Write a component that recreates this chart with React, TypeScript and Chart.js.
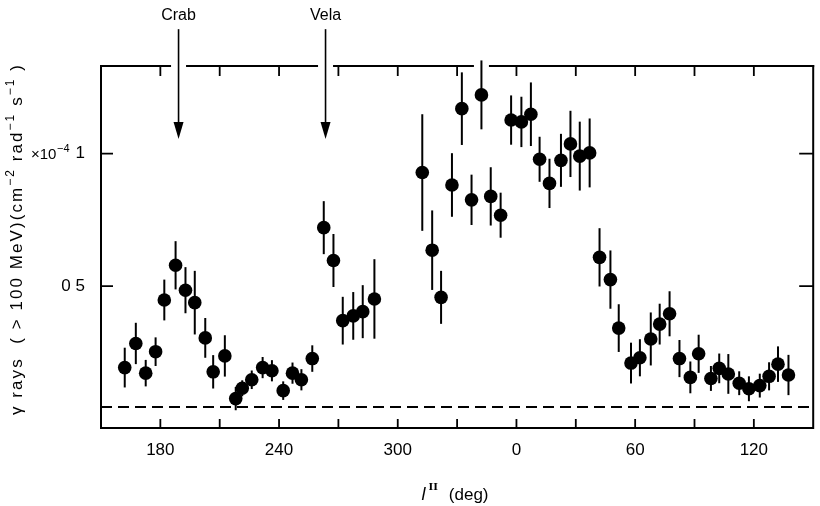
import { useEffect, useRef } from 'react';
import { Chart, registerables } from 'chart.js';

Chart.register(...registerables);

// Galactic longitude of each measurement (deg)
const longitudes = [
  162, 167.6, 172.6, 177.6, 182, 187.7, 192.7, 197.4, 202.7, 206.7,
  212.6, 218.1, 221.4, 226.2, 231.7, 236.4, 242.1, 246.8, 251.3, 256.8,
  262.6, 267.5, 272.2, 277.5, 282.3, 288.2, 312.4, 317.4, 321.9, 327.4,
  332.4, 337.3, 342.3, 347, 352, 357.3, 2.5, 7.3, 11.7, 16.7,
  22.5, 27.3, 32, 37, 42, 47.5, 51.7, 57.9, 62.4, 67.9,
  72.4, 77.4, 82.4, 87.9, 92.1, 98.3, 102.5, 107.1, 112.6, 117.5,
  123, 127.7, 132.2, 137.5,
];

// gamma-ray flux (x10^-4 cm^-2 rad^-1 s^-1)
const fluxes = [
  0.193, 0.284, 0.172, 0.253, 0.448, 0.579, 0.485, 0.438, 0.305, 0.177,
  0.237, 0.076, 0.115, 0.147, 0.193, 0.181, 0.106, 0.172, 0.147, 0.227,
  0.721, 0.597, 0.37, 0.388, 0.404, 0.452, 0.929, 0.636, 0.458, 0.882,
  1.17, 0.826, 1.222, 0.839, 0.768, 1.127, 1.12, 1.149, 0.979, 0.888,
  0.975, 1.037, 0.991, 1.003, 0.609, 0.525, 0.342, 0.21, 0.23, 0.301,
  0.357, 0.396, 0.227, 0.156, 0.245, 0.152, 0.19, 0.169, 0.134, 0.113,
  0.125, 0.16, 0.206, 0.165,
];

const errors = [
  0.075, 0.078, 0.05, 0.054, 0.077, 0.091, 0.087, 0.12, 0.075, 0.063,
  0.078, 0.044, 0.03, 0.035, 0.04, 0.04, 0.035, 0.04, 0.04, 0.05,
  0.1, 0.1, 0.09, 0.09, 0.1, 0.15, 0.22, 0.15, 0.1, 0.12,
  0.137, 0.095, 0.13, 0.11, 0.085, 0.093, 0.095, 0.12, 0.085, 0.093,
  0.1, 0.125, 0.13, 0.13, 0.11, 0.11, 0.09, 0.077, 0.07, 0.1,
  0.077, 0.085, 0.07, 0.06, 0.072, 0.047, 0.056, 0.075, 0.045, 0.047,
  0.045, 0.053, 0.067, 0.076,
];

const backgroundLevel = 0.044;

const xTickValues = [180, 210, 240, 270, 300, 330, 360, 390, 420, 450, 480];
const yTickValues = [0.5, 1];
const yTickLabels = ['0 5', '1'];

const sourceNames = ['Crab', 'Vela'];
const sourceLongitudes = [189.2, 263.5];

const X_MIN = 150;
const X_MAX = 510;
const Y_MIN = -0.035;
const Y_MAX = 1.331;

const unwrap = (l: number) => (l < X_MIN ? l + 360 : l);

const FONT = "'Liberation Sans', Arial, Helvetica, sans-serif";

// y title as runs: [text, isSuperscript]
const yTitleRuns: [string, boolean][] = [
  ['γ rays  ( > 100 MeV)(cm', false],
  ['−2', true],
  [' rad', false],
  ['−1', true],
  [' s', false],
  ['−1', true],
  [' )', false],
];

export default function App() {
  const ref = useRef<HTMLCanvasElement>(null);

  useEffect(() => {
    if (!ref.current) return;
    const points = longitudes.map((l, i) => ({ x: unwrap(l), y: fluxes[i] }));

    const decor = {
      id: 'decor',
      beforeDatasetsDraw(chart: any) {
        const { ctx, scales } = chart;
        const x = scales.x;
        const y = scales.y;
        ctx.save();
        ctx.strokeStyle = '#000';
        ctx.lineWidth = 2;
        points.forEach((p, i) => {
          const px = x.getPixelForValue(p.x);
          ctx.beginPath();
          ctx.moveTo(px, y.getPixelForValue(p.y + errors[i]));
          ctx.lineTo(px, y.getPixelForValue(p.y - errors[i]));
          ctx.stroke();
        });
        ctx.restore();
      },
      afterDraw(chart: any) {
        const { ctx, chartArea: a, scales } = chart;
        const x = scales.x;
        const y = scales.y;
        ctx.save();
        ctx.strokeStyle = '#000';
        ctx.fillStyle = '#000';
        ctx.lineWidth = 2;

        // frame: left, bottom, right
        ctx.beginPath();
        ctx.moveTo(a.left, a.top - 1);
        ctx.lineTo(a.left, a.bottom);
        ctx.lineTo(a.right, a.bottom);
        ctx.lineTo(a.right, a.top - 1);
        ctx.stroke();

        // top frame, broken where arrows / error bar pass through
        const gaps = [...sourceLongitudes, unwrap(longitudes[32])]
          .map((v) => x.getPixelForValue(v))
          .sort((p, q) => p - q);
        let start = a.left - 1;
        ctx.beginPath();
        gaps.forEach((g) => {
          ctx.moveTo(start, a.top);
          ctx.lineTo(g - 7.5, a.top);
          start = g + 7.5;
        });
        ctx.moveTo(start, a.top);
        ctx.lineTo(a.right + 1, a.top);
        ctx.stroke();

        // inward ticks
        ctx.lineWidth = 1.8;
        ctx.beginPath();
        xTickValues.forEach((v) => {
          const px = x.getPixelForValue(v);
          ctx.moveTo(px, a.bottom);
          ctx.lineTo(px, a.bottom - 9);
          ctx.moveTo(px, a.top);
          ctx.lineTo(px, a.top + 10);
        });
        yTickValues.forEach((v) => {
          const py = y.getPixelForValue(v);
          ctx.moveTo(a.left, py);
          ctx.lineTo(a.left + 12, py);
          ctx.moveTo(a.right, py);
          ctx.lineTo(a.right - 14, py);
        });
        ctx.stroke();

        // source arrows
        ctx.font = `16px ${FONT}`;
        ctx.textAlign = 'center';
        ctx.textBaseline = 'middle';
        sourceNames.forEach((name, i) => {
          const px = x.getPixelForValue(sourceLongitudes[i]);
          const yStart = y.getPixelForValue(1.47);
          const yTip = y.getPixelForValue(1.056);
          ctx.lineWidth = 1.6;
          ctx.beginPath();
          ctx.moveTo(px, yStart);
          ctx.lineTo(px, yTip - 10);
          ctx.stroke();
          ctx.beginPath();
          ctx.moveTo(px - 5, yTip - 17);
          ctx.lineTo(px + 5, yTip - 17);
          ctx.lineTo(px, yTip);
          ctx.closePath();
          ctx.fill();
          ctx.fillText(name, px, y.getPixelForValue(1.523));
        });

        // multiplier on the "1" tick: ×10^-4
        {
          const py = y.getPixelForValue(1);
          ctx.textAlign = 'left';
          ctx.textBaseline = 'middle';
          ctx.font = `11px ${FONT}`;
          const wSup = ctx.measureText('−4').width;
          ctx.font = `15px ${FONT}`;
          const wBase = ctx.measureText('×10').width;
          const right = 69;
          const sx = right - wSup - wBase;
          ctx.fillText('×10', sx, py + 1);
          ctx.font = `11px ${FONT}`;
          ctx.fillText('−4', sx + wBase + 0.5, py - 5);
        }

        // y axis title (rotated), with real superscripts
        {
          const base = `17px ${FONT}`;
          const sup = `12px ${FONT}`;
          const targetLen = 352;
          let natural = 0;
          let chars = 0;
          yTitleRuns.forEach(([t, s]) => {
            ctx.font = s ? sup : base;
            natural += ctx.measureText(t).width;
            chars += [...t].length;
          });
          const spacing = Math.max(0, (targetLen - natural) / chars);
          ctx.save();
          ctx.translate(17, (63 + 415) / 2);
          ctx.rotate(-Math.PI / 2);
          ctx.textAlign = 'left';
          ctx.textBaseline = 'middle';
          let sx = -targetLen / 2;
          yTitleRuns.forEach(([t, s]) => {
            [...t].forEach((ch) => {
              ctx.font = s ? sup : base;
              ctx.fillText(ch, sx, s ? -6 : 0);
              sx += ctx.measureText(ch).width + spacing;
            });
          });
          ctx.restore();
        }

        // x axis title: l^II (deg)
        const cx = 455;
        const ty = 494;
        ctx.textAlign = 'left';
        ctx.textBaseline = 'alphabetic';
        ctx.font = `italic 18px ${FONT}`;
        const wl = ctx.measureText('l').width;
        ctx.font = `bold 10px 'DejaVu Serif', serif`;
        const wII = ctx.measureText('II').width;
        ctx.font = `17px ${FONT}`;
        const wDeg = ctx.measureText('(deg)').width;
        const gap = 11;
        const total = wl + 3 + wII + gap + wDeg;
        let sx = cx - total / 2;
        ctx.font = `italic 18px ${FONT}`;
        ctx.fillText('l', sx, ty + 6);
        sx += wl + 3;
        ctx.font = `bold 10px 'DejaVu Serif', serif`;
        ctx.fillText('II', sx, ty - 4);
        sx += wII + gap;
        ctx.font = `17px ${FONT}`;
        ctx.fillText('(deg)', sx, ty + 6);

        ctx.restore();
      },
    };

    const chart = new Chart(ref.current, {
      type: 'scatter',
      data: {
        datasets: [
          {
            data: points,
            backgroundColor: '#000',
            borderColor: '#000',
            borderWidth: 0,
            pointRadius: 6.8,
            pointHoverRadius: 6.8,
          },
          {
            data: [
              { x: X_MIN, y: backgroundLevel },
              { x: X_MAX, y: backgroundLevel },
            ],
            showLine: true,
            borderColor: '#000',
            borderWidth: 2,
            borderDash: [11, 6],
            pointRadius: 0,
          },
        ],
      },
      options: {
        responsive: false,
        animation: false,
        devicePixelRatio: 1,
        events: [],
        layout: { padding: { left: 8, top: 66, right: 3, bottom: 0 } },
        plugins: {
          legend: { display: false },
          tooltip: { enabled: false },
        },
        scales: {
          x: {
            type: 'linear',
            min: X_MIN,
            max: X_MAX,
            afterBuildTicks: (s: any) => {
              s.ticks = xTickValues.map((v) => ({ value: v }));
            },
            afterFit: (s: any) => {
              s.height = 78;
            },
            grid: { display: false, drawTicks: false },
            border: { display: false },
            ticks: {
              autoSkip: false,
              maxRotation: 0,
              padding: 12,
              color: '#000',
              font: { size: 17, family: FONT },
              callback: (v: any) => (Number(v) % 60 === 0 ? String(Number(v) % 360) : ''),
            },
          },
          y: {
            type: 'linear',
            min: Y_MIN,
            max: Y_MAX,
            afterBuildTicks: (s: any) => {
              s.ticks = yTickValues.map((v) => ({ value: v }));
            },
            afterFit: (s: any) => {
              s.width = 93;
            },
            grid: { display: false, drawTicks: false },
            border: { display: false },
            ticks: {
              padding: 16,
              color: '#000',
              font: { size: 17, family: FONT },
              callback: (v: any) => yTickLabels[yTickValues.indexOf(Number(v))] ?? '',
            },
            title: { display: false },
          },
        },
      },
      plugins: [decor],
    } as any);

    return () => chart.destroy();
  }, []);

  return (
    <div style={{ position: 'fixed', left: 0, top: 0, width: 820, height: 506, background: '#fff' }}>
      <canvas ref={ref} width={820} height={506} style={{ display: 'block' }} />
    </div>
  );
}
